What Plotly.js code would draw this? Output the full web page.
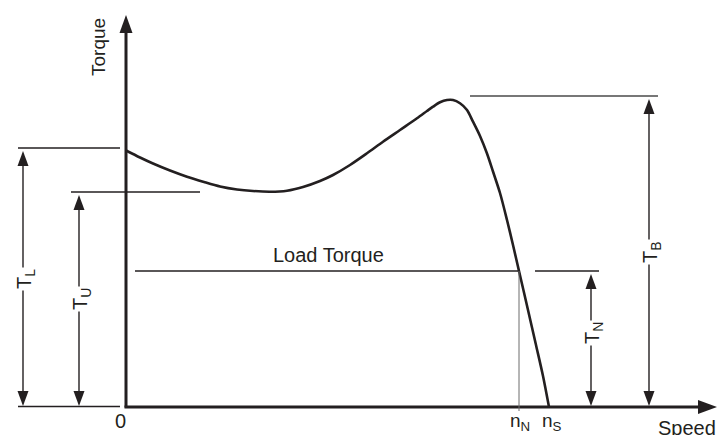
<!DOCTYPE html>
<html>
<head>
<meta charset="utf-8">
<script src="https://cdn.plot.ly/plotly-3.0.1.min.js"></script>
<style>html,body{margin:0;padding:0;background:#fff;}#chart{width:720px;height:435px;}</style>
</head>
<body>
<div id="chart"></div>
<script>
// Torque–speed curve (units, origin at the axes corner)
const speed  = [0,14,27,44,61,78,94,111,127,144,161,177,194,207,224,241,257,274,291,301,307,314,321,327,334,341,347,354,361,367,374,381,387,393,402,410,417,423];
const torque = [256.5,249.5,243.5,236.5,230.3,225,220.5,217.5,216,215.3,216.3,220,226,232,242,253.7,265.3,277,288.7,296,300.3,304.7,307,307,303.7,297,285.3,271,253.5,235.5,214,187,162,136,97,62,31,0];

// Characteristic torques: T_L, T_U, T_N, T_B
const torqueNames  = ['T<sub>L</sub>', 'T<sub>U</sub>', 'T<sub>N</sub>', 'T<sub>B</sub>'];
const torqueLevels = [259, 215, 136, 311];

// Speed marks on the x axis
const speedNames = ['0', 'n<sub>N</sub>', 'n<sub>S</sub>'];
const speedMarks = [0, 393, 423];

const INK = '#231f20';
const FONT = 'Liberation Sans, Arial, Helvetica, sans-serif';

const TL = torqueLevels[0], TU = torqueLevels[1], TN = torqueLevels[2], TB = torqueLevels[3];
const nN = speedMarks[1];

function line(x0, y0, x1, y1, w, c) {
  return {type: 'line', xref: 'x', yref: 'y', x0: x0, y0: y0, x1: x1, y1: y1,
          line: {color: c || INK, width: w}};
}
function tri(pts) {
  let p = 'M ' + pts.map(q => q[0] + ',' + q[1]).join(' L ') + ' Z';
  return {type: 'path', xref: 'x', yref: 'y', path: p, fillcolor: INK, line: {color: INK, width: 0}};
}
// vertical double arrow from y=0 up to level
function dimArrow(x, top) {
  const L = 15, H = 5.5;
  const yt = top - 3, yb = 1;
  return [
    line(x, yb + L - 1, x, yt - L + 1, 1.4),
    tri([[x - H, yt - L], [x, yt], [x + H, yt - L]]),
    tri([[x - H, yb + L], [x, yb], [x + H, yb + L]])
  ];
}

const shapes = [];
// axes with arrow heads
shapes.push(line(0, -0.5, 0, 376, 3));
shapes.push(tri([[-6.5, 374], [0, 392], [6.5, 374]]));
shapes.push(line(-1.5, 0, 574, 0, 3));
shapes.push(tri([[572, -7], [591, 0], [572, 7]]));

// reference lines
shapes.push(line(-108, TL, -6, TL, 1.3));
shapes.push(line(-108, 0.5, -6, 0.5, 1.3));
shapes.push(line(-55, TU, 74, TU, 1.3));
shapes.push(line(9, TN, nN, TN, 1.3));
shapes.push(line(409, TN, 473, TN, 1.3));
shapes.push(line(nN, TN, nN, -4, 1, '#6d6d6d'));
shapes.push(line(344, TB, 532, TB, 1.3, '#4a4a4a'));

// dimension arrows
const dimX = [-103, -47, 465, 523];
for (let i = 0; i < 4; i++) shapes.push(...dimArrow(dimX[i], torqueLevels[i]));

const annotations = [];
// dimension labels (rotated, white gap)
const labelY = [128, 108, 74, 155];
for (let i = 0; i < 4; i++) {
  annotations.push({x: dimX[i] + 2, y: labelY[i], xref: 'x', yref: 'y', text: torqueNames[i],
    showarrow: false, textangle: -90, bgcolor: '#ffffff', borderpad: 1,
    font: {family: FONT, size: 20, color: INK}});
}
// speed marks
const speedLabelX = [-6, nN + 1, speedMarks[2] + 3];
const speedLabelY = [-14, -15, -15];
for (let i = 0; i < 3; i++) {
  annotations.push({x: speedLabelX[i], y: speedLabelY[i], xref: 'x', yref: 'y', text: speedNames[i],
    showarrow: false, font: {family: FONT, size: i === 0 ? 20 : 19, color: INK}});
}
annotations.push({x: -28, y: 360, xref: 'x', yref: 'y', text: 'Torque', showarrow: false, textangle: -90,
  font: {family: FONT, size: 19, color: INK}});
annotations.push({x: 561, y: -21, xref: 'x', yref: 'y', text: 'Speed', showarrow: false,
  font: {family: FONT, size: 20, color: INK}});
annotations.push({x: 202.5, y: 152, xref: 'x', yref: 'y', text: 'Load Torque', showarrow: false,
  font: {family: FONT, size: 20, color: INK}});

const data = [{
  x: speed, y: torque, type: 'scatter', mode: 'lines',
  line: {color: INK, width: 2.6, shape: 'spline', smoothing: 0.8},
  hoverinfo: 'skip'
}];

const layout = {
  width: 720, height: 435,
  margin: {l: 0, r: 0, t: 0, b: 0, pad: 0},
  paper_bgcolor: '#ffffff', plot_bgcolor: '#ffffff',
  showlegend: false,
  xaxis: {visible: false, range: [-126, 594], fixedrange: true},
  yaxis: {visible: false, range: [-28, 407], fixedrange: true},
  shapes: shapes,
  annotations: annotations
};

Plotly.newPlot('chart', data, layout, {displayModeBar: false, staticPlot: true});
</script>
</body>
</html>
